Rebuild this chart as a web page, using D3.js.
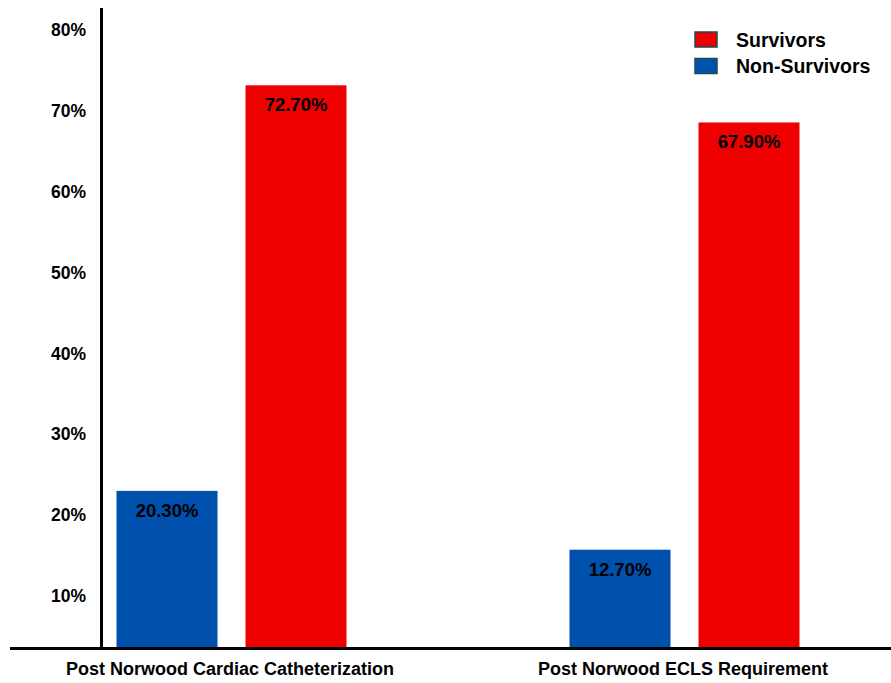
<!DOCTYPE html>
<html>
<head>
<meta charset="utf-8">
<script src="https://cdn.jsdelivr.net/npm/d3@7/dist/d3.min.js"></script>
<style>
  html, body { margin: 0; padding: 0; background: #fff; }
  svg { display: block; font-family: "Liberation Sans", Arial, sans-serif; }
</style>
</head>
<body>
<svg id="chart" width="891" height="683"></svg>
<script>
const categories = ["Post Norwood Cardiac Catheterization", "Post Norwood ECLS Requirement"];
const seriesNames = ["Non-Survivors", "Survivors"];
const nonSurvivors = [20.3, 12.7];
const survivors = [72.7, 67.9];
const valueLabels = {"Non-Survivors": ["20.30%", "12.70%"], "Survivors": ["72.70%", "67.90%"]};
const tickValues = [10, 20, 30, 40, 50, 60, 70, 80];
const tickLabels = ["10%", "20%", "30%", "40%", "50%", "60%", "70%", "80%"];
const colors = {"Survivors": "#EE0000", "Non-Survivors": "#0050AE"};
const legendOrder = ["Survivors", "Non-Survivors"];

const svg = d3.select("#chart");
const baseY = 648;

// value scale for bars
const y = d3.scaleLinear().domain([0, 80]).range([baseY, 28.8]);
// tick label placement scale (labels in the original sit on their own spacing)
const yLabels = d3.scaleLinear().domain([10, 80]).range([596, 30]);

const xGroup = d3.scalePoint().domain(categories).range([231.5, 684.5]);
const xInner = d3.scaleBand().domain(seriesNames).range([-115, 115]).paddingInner(28 / 129);

const data = [];
categories.forEach((c, i) => {
  data.push({cat: c, series: "Non-Survivors", value: nonSurvivors[i], label: valueLabels["Non-Survivors"][i]});
  data.push({cat: c, series: "Survivors", value: survivors[i], label: valueLabels["Survivors"][i]});
});

// bars
svg.append("g").selectAll("rect").data(data).join("rect")
  .attr("x", d => xGroup(d.cat) + xInner(d.series))
  .attr("y", d => y(d.value))
  .attr("width", xInner.bandwidth())
  .attr("height", d => baseY - y(d.value))
  .attr("fill", d => colors[d.series]);

// value labels
svg.append("g").selectAll("text").data(data).join("text")
  .attr("x", d => xGroup(d.cat) + xInner(d.series) + xInner.bandwidth() / 2)
  .attr("y", d => y(d.value) + 26)
  .attr("text-anchor", "middle")
  .attr("font-size", 18.5)
  .attr("font-weight", "bold")
  .attr("fill", "#000")
  .text(d => d.label);

// y axis labels
const yAxis = d3.axisLeft(yLabels).tickValues(tickValues)
  .tickFormat((d, i) => tickLabels[i]).tickSize(0).tickPadding(15);
const gy = svg.append("g").attr("transform", "translate(101,0)").call(yAxis);
gy.select(".domain").remove();
gy.selectAll("text").attr("font-size", 17.5).attr("font-weight", "bold").attr("fill", "#000")
  .attr("font-family", "Liberation Sans, Arial, sans-serif");

// y axis line
svg.append("line").attr("x1", 101.5).attr("x2", 101.5).attr("y1", 8).attr("y2", baseY + 1.5)
  .attr("stroke", "#000").attr("stroke-width", 3);

// x axis line
svg.append("line").attr("x1", 10).attr("x2", 891).attr("y1", baseY + 0.5).attr("y2", baseY + 0.5)
  .attr("stroke", "#000").attr("stroke-width", 3);

// x axis labels
const xAxis = d3.axisBottom(xGroup).tickSize(0).tickPadding(14);
const gx = svg.append("g").attr("transform", `translate(-2,${baseY})`).call(xAxis);
gx.select(".domain").remove();
gx.selectAll("text").attr("font-size", 18).attr("font-weight", "bold").attr("fill", "#000")
  .attr("font-family", "Liberation Sans, Arial, sans-serif");

// legend
const legend = svg.append("g").attr("transform", "translate(695,32)");
const li = legend.selectAll("g").data(legendOrder).join("g")
  .attr("transform", (d, i) => `translate(0,${i * 26.5})`);
li.append("rect").attr("width", 22).attr("height", 15)
  .attr("fill", d => colors[d]).attr("stroke", "#1d4a5a").attr("stroke-width", 1.5);
li.append("text").attr("x", 41).attr("y", 8).attr("dy", "0.35em")
  .attr("font-size", 19.5).attr("font-weight", "bold").attr("fill", "#000")
  .text(d => d);
</script>
</body>
</html>
